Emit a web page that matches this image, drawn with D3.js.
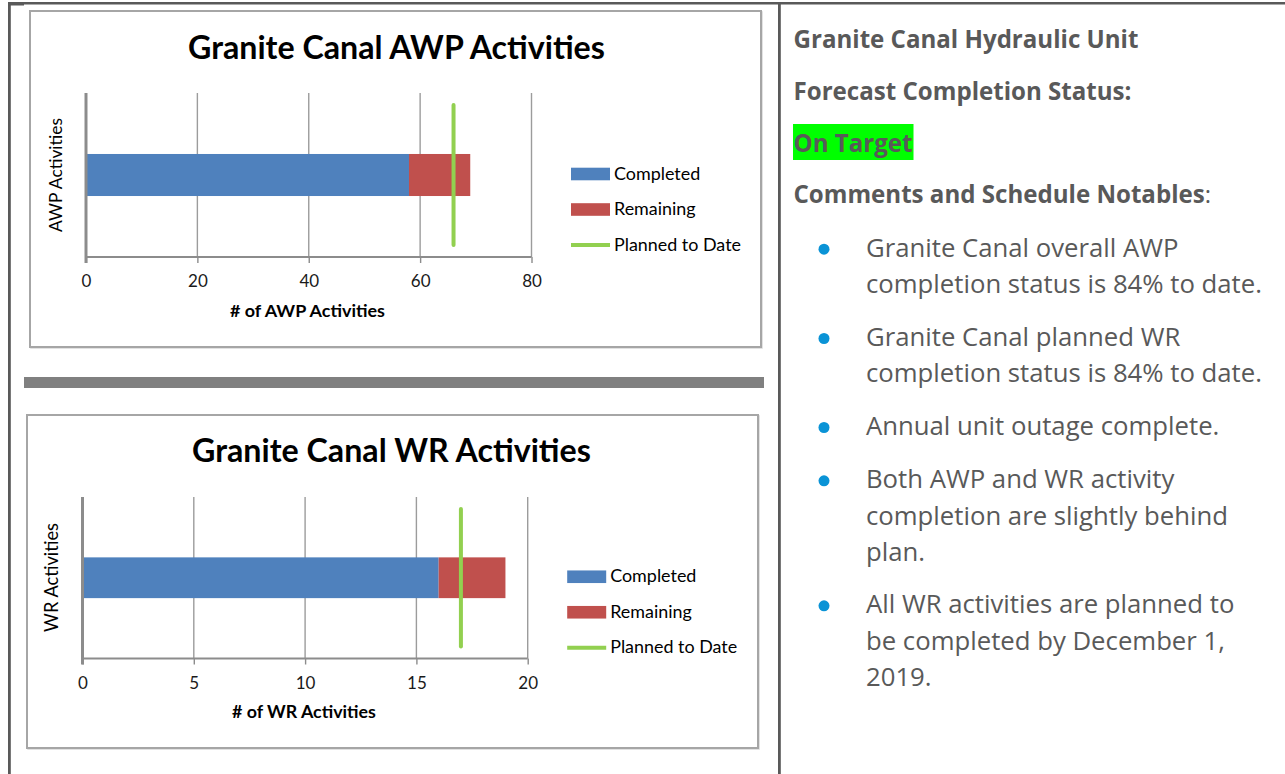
<!DOCTYPE html>
<html>
<head>
<meta charset="utf-8">
<script src="https://cdn.jsdelivr.net/npm/d3@7"></script>
<style>
  html, body { margin: 0; padding: 0; background: #fff; }
  svg { display: block; }
</style>
</head>
<body>
<svg id="root" width="1285" height="774"></svg>
<script>
// ---------------- DATA ----------------
const awpCategories = ["AWP Activities"];
const awpCompleted = [58];
const awpRemaining = [11];
const awpPlanned = [66];
const awpTicks = [0, 20, 40, 60, 80];

const wrCategories = ["WR Activities"];
const wrCompleted = [16];
const wrRemaining = [3];
const wrPlanned = [17];
const wrTicks = [0, 5, 10, 15, 20];

const legendLabels = ["Completed", "Remaining", "Planned to Date"];

const panelHeadings = ["Granite Canal Hydraulic Unit", "Forecast Completion Status:"];
const panelStatus = "On Target";
const panelCommentsLabel = "Comments and Schedule Notables";
const panelBullets = [
  ["Granite Canal overall AWP", "completion status is 84% to date."],
  ["Granite Canal planned WR", "completion status is 84% to date."],
  ["Annual unit outage complete."],
  ["Both AWP and WR activity", "completion are slightly behind", "plan."],
  ["All WR activities are planned to", "be completed by December 1,", "2019."]
];

// ---------------- STYLE ----------------
const C_BLUE = "#4f81bd", C_RED = "#c0504d", C_GREEN = "#92d050";
const CHART_FONT = "Lato, 'Liberation Sans', sans-serif";
const PANEL_FONT = "'Open Sans', 'Noto Sans', sans-serif";
const PANEL_COLOR = "#595959";

const svg = d3.select("#root");

function fit(sel, target) {
  const node = sel.node();
  const s0 = parseFloat(sel.attr("font-size"));
  const w = node.getComputedTextLength();
  if (w > 0) sel.attr("font-size", (s0 * target / w).toFixed(2));
  return sel;
}

// ---------------- FRAME ----------------
svg.append("rect").attr("x", 8).attr("y", 2).attr("width", 1285).attr("height", 2.5).attr("fill", "#595959");
svg.append("rect").attr("x", 8).attr("y", 2).attr("width", 2.8).attr("height", 774).attr("fill", "#595959");
svg.append("rect").attr("x", 8).attr("y", 2).attr("width", 16).attr("height", 3.5).attr("fill", "#595959");
svg.append("rect").attr("x", 778).attr("y", 2).attr("width", 2.8).attr("height", 774).attr("fill", "#595959");
// separator bar
svg.append("rect").attr("x", 24).attr("y", 377).attr("width", 740).attr("height", 11).attr("fill", "#808080");

// ---------------- CHART ----------------
function drawChart(cfg) {
  const g = svg.append("g");
  // chart box
  g.append("rect").attr("x", cfg.box[0] + 1).attr("y", cfg.box[1] + 1)
    .attr("width", cfg.box[2] - cfg.box[0]).attr("height", cfg.box[3] - cfg.box[1])
    .attr("fill", "none").attr("stroke", "#d9d9d9").attr("stroke-width", 1.5);
  g.append("rect").attr("x", cfg.box[0]).attr("y", cfg.box[1])
    .attr("width", cfg.box[2] - cfg.box[0]).attr("height", cfg.box[3] - cfg.box[1])
    .attr("fill", "#fff").attr("stroke", "#a6a6a6").attr("stroke-width", 2);

  const x = d3.scaleLinear().domain(cfg.domain).range(cfg.xRange);
  const y = d3.scaleBand().domain(cfg.categories).range(cfg.yRange).padding(cfg.pad);
  const [top, bottom] = cfg.yRange;

  // title
  const t = g.append("text").attr("x", cfg.titleX).attr("y", cfg.titleY)
    .attr("text-anchor", "middle").attr("font-family", CHART_FONT).attr("font-weight", 700)
    .attr("font-size", 30).attr("fill", "#000").text(cfg.title);
  fit(t, cfg.titleW);

  // gridlines
  g.append("g").selectAll("line").data(cfg.ticks.slice(1)).join("line")
    .attr("x1", d => x(d)).attr("x2", d => x(d)).attr("y1", top).attr("y2", bottom)
    .attr("stroke", "#9c9c9c").attr("stroke-width", 1.4);

  // x axis
  const ax = g.append("g").attr("transform", `translate(0,${bottom})`)
    .call(d3.axisBottom(x).tickValues(cfg.ticks).tickSize(6).tickPadding(12).tickFormat(d3.format("d")));
  ax.select(".domain").attr("stroke", "#8c8c8c").attr("stroke-width", 2.2)
    .attr("d", `M${x(cfg.domain[0])},0H${x(cfg.domain[1])}`);
  ax.selectAll(".tick line").attr("stroke", "#8c8c8c").attr("stroke-width", 1.4);
  ax.selectAll(".tick text").attr("font-family", CHART_FONT).attr("font-size", 17).attr("fill", "#1a1a1a");

  // bars
  const rows = cfg.categories.map((c, i) => ({ c, done: cfg.completed[i], rem: cfg.remaining[i], plan: cfg.planned[i] }));
  g.append("g").selectAll("rect").data(rows).join("rect")
    .attr("x", x(0)).attr("y", d => y(d.c)).attr("width", d => x(d.done) - x(0)).attr("height", y.bandwidth())
    .attr("fill", C_BLUE);
  g.append("g").selectAll("rect").data(rows).join("rect")
    .attr("x", d => x(d.done)).attr("y", d => y(d.c)).attr("width", d => x(d.done + d.rem) - x(d.done)).attr("height", y.bandwidth())
    .attr("fill", C_RED);

  // y axis line (thick)
  g.append("line").attr("x1", x(0)).attr("x2", x(0)).attr("y1", top).attr("y2", bottom + 6)
    .attr("stroke", "#8c8c8c").attr("stroke-width", 3);

  // planned line
  g.append("g").selectAll("line").data(rows).join("line")
    .attr("x1", d => x(d.plan)).attr("x2", d => x(d.plan))
    .attr("y1", top + cfg.planInset[0]).attr("y2", bottom - cfg.planInset[1])
    .attr("stroke", C_GREEN).attr("stroke-width", 4).attr("stroke-linecap", "round");

  // axis titles
  const xt = g.append("text").attr("x", cfg.xTitle[0]).attr("y", cfg.xTitle[1]).attr("text-anchor", "middle")
    .attr("font-family", CHART_FONT).attr("font-weight", 700).attr("font-size", 16).attr("fill", "#000").text(cfg.xTitleText);
  fit(xt, cfg.xTitle[2]);
  const yt = g.append("text").attr("transform", `translate(${cfg.yTitle[0]},${cfg.yTitle[1]}) rotate(-90)`)
    .attr("text-anchor", "middle").attr("font-family", CHART_FONT).attr("font-size", 16).attr("fill", "#000")
    .text(cfg.categories[0]);
  fit(yt, cfg.yTitle[2]);

  // legend
  const lx = x(cfg.domain[1]) + 39.5;
  const cy = (top + bottom) / 2 - 1;
  const lg = g.append("g");
  legendLabels.forEach((lab, i) => {
    const yy = cy + i * 35.5;
    if (i < 2) {
      lg.append("rect").attr("x", lx).attr("y", yy - 6.3).attr("width", 39).attr("height", 12.6)
        .attr("fill", i === 0 ? C_BLUE : C_RED);
    } else {
      lg.append("line").attr("x1", lx).attr("x2", lx + 39).attr("y1", yy).attr("y2", yy)
        .attr("stroke", C_GREEN).attr("stroke-width", 4);
    }
    const tx = lg.append("text").attr("x", lx + 43).attr("y", yy + 5.5)
      .attr("font-family", CHART_FONT).attr("font-size", 17).attr("fill", "#000").text(lab);
    if (i === 2) fit(tx, 127);
  });
  const sz = lg.selectAll("text").filter((d, i, n) => i === 2).attr("font-size");
  lg.selectAll("text").attr("font-size", sz);
}

drawChart({
  box: [30, 11, 761, 347],
  title: "Granite Canal AWP Activities", titleX: 396.5, titleY: 58.5, titleW: 417,
  categories: awpCategories, completed: awpCompleted, remaining: awpRemaining, planned: awpPlanned,
  domain: [0, 80], ticks: awpTicks, xRange: [86, 531.5], yRange: [93, 257], pad: 0.592,
  planInset: [12, 12],
  xTitleText: "# of AWP Activities", xTitle: [307.5, 317, 155],
  yTitle: [62, 175, 114]
});

drawChart({
  box: [27, 415, 758, 748],
  title: "Granite Canal WR Activities", titleX: 391.5, titleY: 462, titleW: 399,
  categories: wrCategories, completed: wrCompleted, remaining: wrRemaining, planned: wrPlanned,
  domain: [0, 20], ticks: wrTicks, xRange: [82.5, 527.7], yRange: [497, 658.5], pad: 0.597,
  planInset: [12, 12],
  xTitleText: "# of WR Activities", xTitle: [304, 717.5, 144],
  yTitle: [58, 577.5, 109]
});

// ---------------- RIGHT PANEL ----------------
const panel = svg.append("g");
const headY = [47.5, 100];
let headSize = 20;
panelHeadings.forEach((h, i) => {
  const tx = panel.append("text").attr("x", 793.5).attr("y", headY[i])
    .attr("font-family", PANEL_FONT).attr("font-weight", 700).attr("font-size", 20).attr("fill", PANEL_COLOR).text(h);
  if (i === 0) { fit(tx, 345); headSize = +tx.attr("font-size"); }
});
panel.selectAll("text").attr("font-size", headSize);

panel.append("rect").attr("x", 793).attr("y", 124).attr("width", 120.5).attr("height", 36).attr("fill", "#00ff00");
panel.append("text").attr("x", 793.5).attr("y", 151.5)
  .attr("font-family", PANEL_FONT).attr("font-weight", 700).attr("font-size", headSize).attr("fill", PANEL_COLOR).text(panelStatus);

const ct = panel.append("text").attr("x", 793.5).attr("y", 203)
  .attr("font-family", PANEL_FONT).attr("font-size", headSize).attr("fill", PANEL_COLOR);
ct.append("tspan").attr("font-weight", 700).text(panelCommentsLabel);
ct.append("tspan").text(":");

// bullets
const probe = panel.append("text").attr("font-family", PANEL_FONT).attr("font-size", 22).text(panelBullets[0][1]);
fit(probe, 396);
const bSize = +probe.attr("font-size");
probe.remove();

const bulletStarts = [256.7, 346, 435, 488.3, 613.3];
const lineH = 36.3;
panelBullets.forEach((lines, bi) => {
  const y0 = bulletStarts[bi];
  panel.append("circle").attr("cx", 824).attr("cy", y0 - 7.5).attr("r", 5.5).attr("fill", "#0a93d6");
  lines.forEach((ln, li) => {
    panel.append("text").attr("x", 866).attr("y", y0 + li * lineH)
      .attr("font-family", PANEL_FONT).attr("font-size", bSize).attr("fill", PANEL_COLOR).text(ln);
  });
});
</script>
</body>
</html>
